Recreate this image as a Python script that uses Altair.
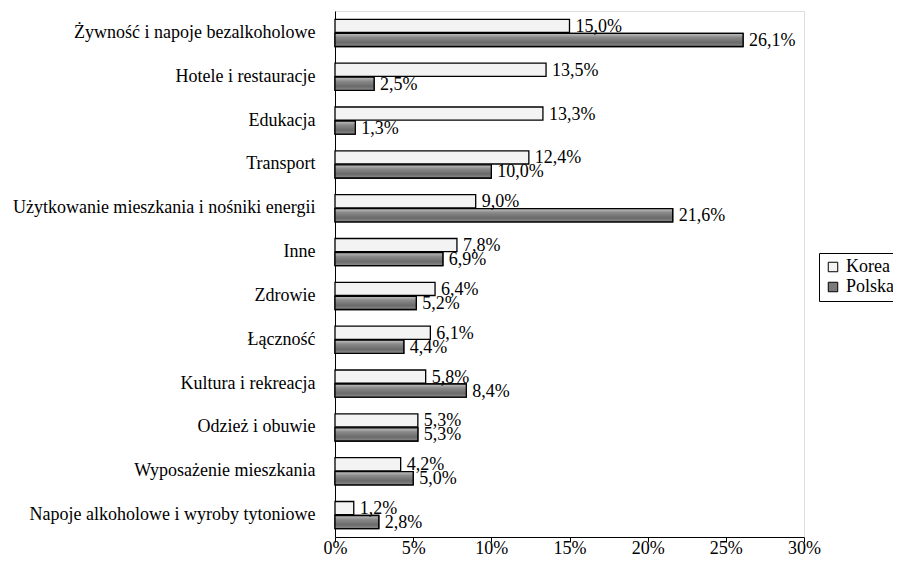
import altair as alt
import pandas as pd

categories = [
    "Żywność i napoje bezalkoholowe\u00a0\u00a0",
    "Hotele i restauracje",
    "Edukacja",
    "Transport",
    "Użytkowanie mieszkania i nośniki energii\u00a0",
    "Inne",
    "Zdrowie",
    "Łączność",
    "Kultura i rekreacja",
    "Odzież i obuwie",
    "Wyposażenie mieszkania",
    "Napoje alkoholowe i wyroby tytoniowe\u00a0",
]
series_names = ["Korea", "Polska"]
korea = [15.0, 13.5, 13.3, 12.4, 9.0, 7.8, 6.4, 6.1, 5.8, 5.3, 4.2, 1.2]
polska = [26.1, 2.5, 1.3, 10.0, 21.6, 6.9, 5.2, 4.4, 8.4, 5.3, 5.0, 2.8]
x_ticks = [0, 5, 10, 15, 20, 25, 30]

rows = []
for c, k, p in zip(categories, korea, polska):
    for s, v in (("Korea", k), ("Polska", p)):
        rows.append({"category": c, "series": s, "value": v,
                     "label": f"{v:.1f}".replace(".", ",") + "%"})
df = pd.DataFrame(rows)

FONT = "Liberation Serif"
FS = 18

x_enc = alt.X("value:Q", scale=alt.Scale(domain=[0, 30], nice=False),
              axis=alt.Axis(values=x_ticks, labelExpr="datum.value + '%'",
                            title=None, grid=False, domainColor="black",
                            tickColor="black", tickSize=5, labelFont=FONT,
                            labelFontSize=FS, labelColor="black", labelPadding=-3,
                            labelFlush=False))
y_enc = alt.Y("category:N", sort=categories,
              scale=alt.Scale(paddingInner=0.38, paddingOuter=0.19),
              axis=alt.Axis(title=None, ticks=False, domainColor="black",
                            labelFont=FONT, labelFontSize=FS, labelColor="black",
                            labelPadding=20, labelLimit=0))
yoff = alt.YOffset("series:N", sort=series_names,
                   scale=alt.Scale(paddingInner=0.06))

base = alt.Chart(df).encode(y=y_enc, yOffset=yoff, x=x_enc)

bars = base.mark_bar(stroke="black", strokeWidth=1.3).encode(
    color=alt.Color("series:N",
                    scale=alt.Scale(domain=series_names, range=["#f3f3f3", "#7a7a7a"]),
                    legend=alt.Legend(title=None, orient="none", legendX=484, legendY=242,
                                      strokeColor="black", fillColor="white", padding=5,
                                      symbolType="square", symbolSize=90,
                                      symbolStrokeColor="black", symbolStrokeWidth=1,
                                      labelFont=FONT, labelFontSize=FS, labelColor="black",
                                      labelOffset=4, rowPadding=2))
)

gradient = alt.Gradient(
    gradient="linear", x1=0, x2=0, y1=0, y2=1,
    stops=[alt.GradientStop(color="#c4c4c4", offset=0),
           alt.GradientStop(color="#8a8a8a", offset=0.3),
           alt.GradientStop(color="#6a6a6a", offset=0.7),
           alt.GradientStop(color="#8c8c8c", offset=1)],
)
pol_bars = base.transform_filter(alt.datum.series == "Polska").mark_bar(
    fill=gradient, stroke="black", strokeWidth=1.3)

labels = base.mark_text(
    align="left", baseline="middle", dx=6, dy=1, font=FONT, fontSize=FS, color="black"
).encode(text="label:N")

chart = alt.layer(bars, pol_bars, labels).properties(
    width=469, height=526,
    autosize=alt.AutoSizeParams(type="none"),
    padding={"left": 327, "top": 3, "right": 89, "bottom": 21},
).configure_view(stroke="black", strokeWidth=1).configure(background="white")

chart.save("out.html", embed_options={"renderer": "svg", "actions": False})
